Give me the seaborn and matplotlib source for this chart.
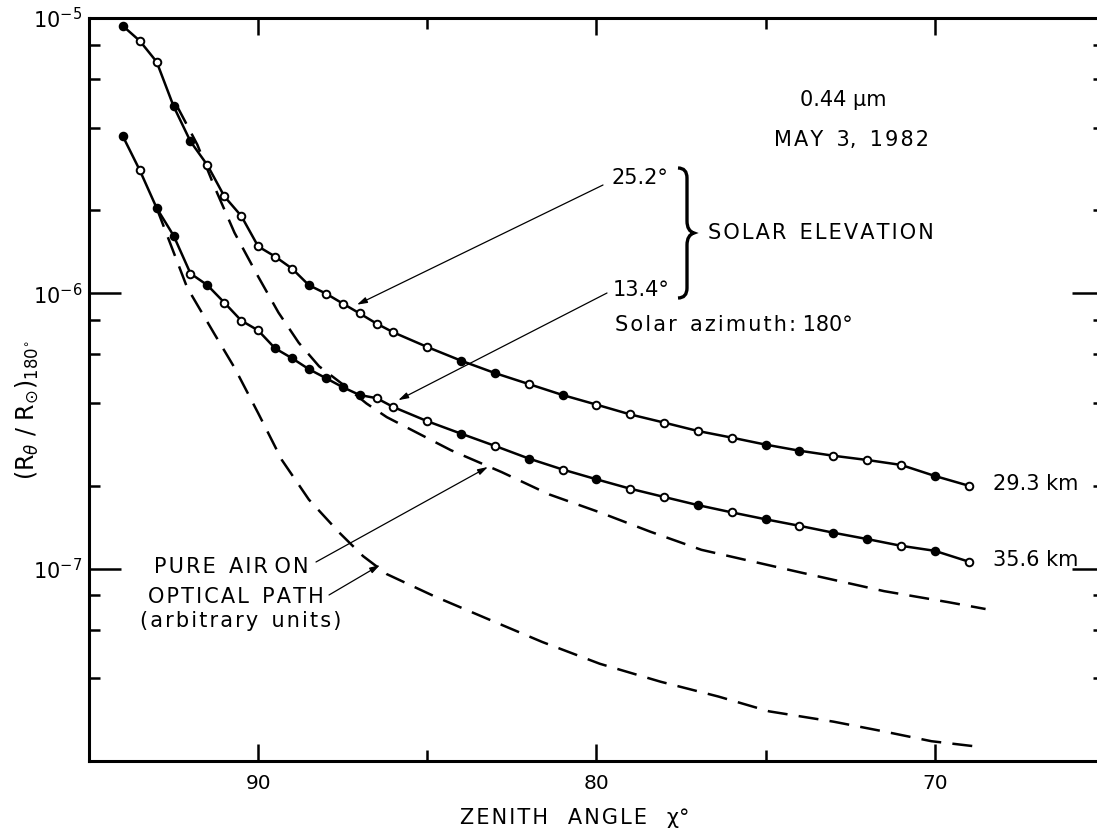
import numpy as np
import pandas as pd
import matplotlib
matplotlib.use("Agg")
import matplotlib.pyplot as plt
import seaborn as sns
from matplotlib.path import Path
from matplotlib.patches import PathPatch
from matplotlib.ticker import FixedLocator, LogLocator, NullFormatter, FixedFormatter

# ---------------- data ----------------
zenith_obs = [94.0, 93.5, 93.0, 92.5, 92.0, 91.5, 91.0, 90.5, 90.0, 89.5, 89.0,
              88.5, 88.0, 87.5, 87.0, 86.5, 86.0, 85, 84, 83, 82, 81, 80, 79,
              78, 77, 76, 75, 74, 73, 72, 71, 70, 69]

ratio_293km = [9.36e-6, 8.26e-6, 6.93e-6, 4.78e-6, 3.56e-6, 2.92e-6, 2.25e-6,
               1.91e-6, 1.48e-6, 1.36e-6, 1.23e-6, 1.07e-6, 9.98e-7, 9.18e-7,
               8.45e-7, 7.76e-7, 7.21e-7, 6.38e-7, 5.69e-7, 5.13e-7, 4.68e-7,
               4.27e-7, 3.94e-7, 3.63e-7, 3.39e-7, 3.16e-7, 2.99e-7, 2.82e-7,
               2.68e-7, 2.57e-7, 2.48e-7, 2.38e-7, 2.17e-7, 2.00e-7]
filled_293km = [1, 0, 0, 1, 1, 0, 0, 0, 0, 0, 0, 1, 0, 0, 0, 0, 0,
                0, 1, 1, 0, 1, 0, 0, 0, 0, 0, 1, 1, 0, 0, 0, 1, 0]

ratio_356km = [3.72e-6, 2.80e-6, 2.04e-6, 1.62e-6, 1.18e-6, 1.07e-6, 9.25e-7,
               7.96e-7, 7.33e-7, 6.31e-7, 5.81e-7, 5.30e-7, 4.92e-7, 4.56e-7,
               4.27e-7, 4.16e-7, 3.86e-7, 3.43e-7, 3.09e-7, 2.79e-7, 2.51e-7,
               2.29e-7, 2.11e-7, 1.95e-7, 1.82e-7, 1.70e-7, 1.60e-7, 1.51e-7,
               1.43e-7, 1.35e-7, 1.28e-7, 1.21e-7, 1.16e-7, 1.06e-7]
filled_356km = [1, 0, 1, 1, 0, 1, 0, 0, 0, 1, 1, 1, 1, 1, 1, 0, 0,
                0, 1, 0, 1, 0, 1, 0, 0, 1, 0, 1, 0, 1, 1, 0, 1, 0]

# pure air on optical path (arbitrary units), two dashed curves
zenith_air_a = [92.4, 91.8, 91.3, 90.7, 90.0, 89.4, 88.8, 88.2, 87.4, 86.8, 86.2,
                84.3, 82.8, 81.4, 79.9, 78.4, 76.9, 74.0, 71.5, 69.6, 68.5]
ratio_air_a = [4.79e-6, 3.47e-6, 2.45e-6, 1.66e-6, 1.15e-6, 8.51e-7, 6.61e-7,
               5.43e-7, 4.57e-7, 3.98e-7, 3.55e-7, 2.69e-7, 2.24e-7, 1.86e-7,
               1.60e-7, 1.36e-7, 1.17e-7, 9.70e-8, 8.28e-8, 7.55e-8, 7.13e-8]

zenith_air_b = [93.0, 92.1, 91.3, 90.7, 90.0, 89.3, 88.5, 87.6, 86.9, 86.2, 84.8,
                83.2, 81.6, 79.9, 78.1, 76.4, 74.9, 73.0, 71.5, 70.1, 68.8]
ratio_air_b = [2.04e-6, 1.05e-6, 7.14e-7, 5.37e-7, 3.67e-7, 2.48e-7, 1.78e-7,
               1.35e-7, 1.11e-7, 9.55e-8, 7.94e-8, 6.55e-8, 5.41e-8, 4.51e-8,
               3.88e-8, 3.43e-8, 3.03e-8, 2.78e-8, 2.56e-8, 2.36e-8, 2.26e-8]

x_major = [90, 80, 70]
x_major_labels = ["90", "80", "70"]
x_minor = [85, 75]

# ---------------- figure ----------------
W, H, DPI = 1097, 830, 100
sns.set_style("ticks")
plt.rcParams["font.family"] = ["DejaVu Sans"]
plt.rcParams["mathtext.fontset"] = "dejavusans"
for k in ("text.color", "axes.labelcolor", "xtick.color", "ytick.color", "axes.edgecolor"):
    plt.rcParams[k] = "black"

HS = "\u200a"


def spaced(s):
    return HS.join(s)


fig = plt.figure(figsize=(W / DPI, H / DPI), dpi=DPI)
fig.patch.set_facecolor("white")

left_px, right_px, top_px, bot_px = 89, 1104, 18, 761
ax = fig.add_axes([left_px / W, 1 - bot_px / H,
                   (right_px - left_px) / W, (bot_px - top_px) / H])
ax.set_facecolor("white")

df_293 = pd.DataFrame({"zenith": zenith_obs, "ratio": ratio_293km, "filled": filled_293km})
df_356 = pd.DataFrame({"zenith": zenith_obs, "ratio": ratio_356km, "filled": filled_356km})
df_a = pd.DataFrame({"zenith": zenith_air_a, "ratio": ratio_air_a})
df_b = pd.DataFrame({"zenith": zenith_air_b, "ratio": ratio_air_b})

for d in (df_a, df_b):
    sns.lineplot(data=d, x="zenith", y="ratio", ax=ax, color="black", lw=1.8,
                 sort=False, estimator=None)
for line in ax.lines:
    line.set_dashes((8, 4.5))

for d in (df_293, df_356):
    sns.lineplot(data=d, x="zenith", y="ratio", ax=ax, color="black", lw=1.8,
                 sort=False, estimator=None)
    sns.scatterplot(data=d[d.filled == 0], x="zenith", y="ratio", ax=ax,
                    marker="o", s=30, facecolor="white", edgecolor="black",
                    linewidth=1.4, zorder=5)
    sns.scatterplot(data=d[d.filled == 1], x="zenith", y="ratio", ax=ax,
                    marker="o", s=30, facecolor="black", edgecolor="black",
                    linewidth=1.4, zorder=5)

ax.set_yscale("log")
ax.set_xlim(95, 65)
ax.set_ylim(2e-8, 1e-5)

ax.xaxis.set_major_locator(FixedLocator(x_major))
ax.xaxis.set_major_formatter(FixedFormatter(x_major_labels))
ax.xaxis.set_minor_locator(FixedLocator(x_minor))
ax.yaxis.set_major_locator(FixedLocator([1e-7, 1e-6, 1e-5]))
ax.yaxis.set_major_formatter(FixedFormatter([r"$10^{-7}$", r"$10^{-6}$", r"$10^{-5}$"]))
ax.yaxis.set_minor_locator(LogLocator(base=10, subs=[2, 4, 6, 8]))
ax.yaxis.set_minor_formatter(NullFormatter())

ax.tick_params(axis="x", which="major", direction="in", length=12.5, width=1.8,
               top=True, bottom=True, labelsize=14.5, pad=9)
ax.tick_params(axis="x", which="minor", direction="in", length=8, width=1.8,
               top=True, bottom=True)
ax.tick_params(axis="y", which="major", direction="in", length=23, width=1.8,
               left=True, right=True, labelsize=15, pad=5)
ax.tick_params(axis="y", which="minor", direction="in", length=8, width=1.8,
               left=True, right=True)
for sp in ax.spines.values():
    sp.set_linewidth(2.2)
    sp.set_color("black")
ax.set_xlabel("")
ax.set_ylabel("")


def fp(px, py):
    return (px, H - py)


fig.text(575 / W, 1 - 818 / H, spaced("ZENITH") + "   " + spaced("ANGLE") + "   χ°",
         ha="center", va="center", fontsize=15)
fig.text(27 / W, 1 - 410 / H,
         r"$(\mathrm{R}_{\theta}\ /\ \mathrm{R}_{\odot})_{180^{\circ}}$",
         rotation=90, ha="center", va="center", fontsize=17)

txt_kw = dict(fontsize=15, transform=None)
ax.text(*fp(843, 100), "0.44 μm", ha="center", va="center", **txt_kw)
ax.text(*fp(852, 140), spaced("MAY") + "  3,  " + spaced("1982"), ha="center", va="center", **txt_kw)
ax.text(*fp(640, 178), "25.2°", ha="center", va="center", **txt_kw)
ax.text(*fp(641, 290), "13.4°", ha="center", va="center", **txt_kw)
ax.text(*fp(708, 233), spaced("SOLAR") + "  " + spaced("ELEVATION"), ha="left",
        va="center", **txt_kw)
ax.text(*fp(615, 325), spaced("Solar") + "  " + spaced("azimuth:") + " 180°",
        ha="left", va="center", **txt_kw)
ax.text(*fp(993, 484), "29.3 km", ha="left", va="center", **txt_kw)
ax.text(*fp(993, 560), "35.6 km", ha="left", va="center", **txt_kw)
ax.text(*fp(231, 567), spaced("PURE") + "  " + spaced("AIR") + " " + spaced("ON"),
        ha="center", va="center", **txt_kw)
ax.text(*fp(236, 597), spaced("OPTICAL") + "  " + spaced("PATH"), ha="center",
        va="center", **txt_kw)
ax.text(*fp(241, 621), spaced("(arbitrary") + "  " + spaced("units)"), ha="center",
        va="center", **txt_kw)

# brace for solar elevation
top_y, bot_y, mid_y = 168, 298, 233
verts = [fp(678, top_y), fp(687, top_y), fp(687, top_y + 10),
         fp(687, mid_y - 12), fp(687, mid_y - 2), fp(694, mid_y),
         fp(687, mid_y + 2), fp(687, mid_y + 12),
         fp(687, bot_y - 10), fp(687, bot_y), fp(678, bot_y)]
codes = [Path.MOVETO, Path.CURVE3, Path.CURVE3, Path.LINETO,
         Path.CURVE3, Path.CURVE3, Path.CURVE3, Path.CURVE3,
         Path.LINETO, Path.CURVE3, Path.CURVE3]
brace = PathPatch(Path(verts, codes), transform=None, fill=False, lw=2.4,
                  edgecolor="black", clip_on=False)
fig.patches.append(brace)

arrow_kw = dict(arrowstyle="-|>,head_length=0.6,head_width=0.18", color="black",
                lw=0.9, shrinkA=0, shrinkB=0)
ax.annotate("", xy=(87.08, 9.09e-7), xytext=fp(603, 185),
            textcoords="figure pixels", arrowprops=arrow_kw)
ax.annotate("", xy=(85.86, 4.09e-7), xytext=fp(607, 293),
            textcoords="figure pixels", arrowprops=arrow_kw)
ax.annotate("", xy=(83.21, 2.34e-7), xytext=fp(316, 562),
            textcoords="figure pixels", arrowprops=arrow_kw)
ax.annotate("", xy=(86.40, 1.03e-7), xytext=fp(329, 595),
            textcoords="figure pixels", arrowprops=arrow_kw)

fig.savefig("out.png", dpi=DPI)
